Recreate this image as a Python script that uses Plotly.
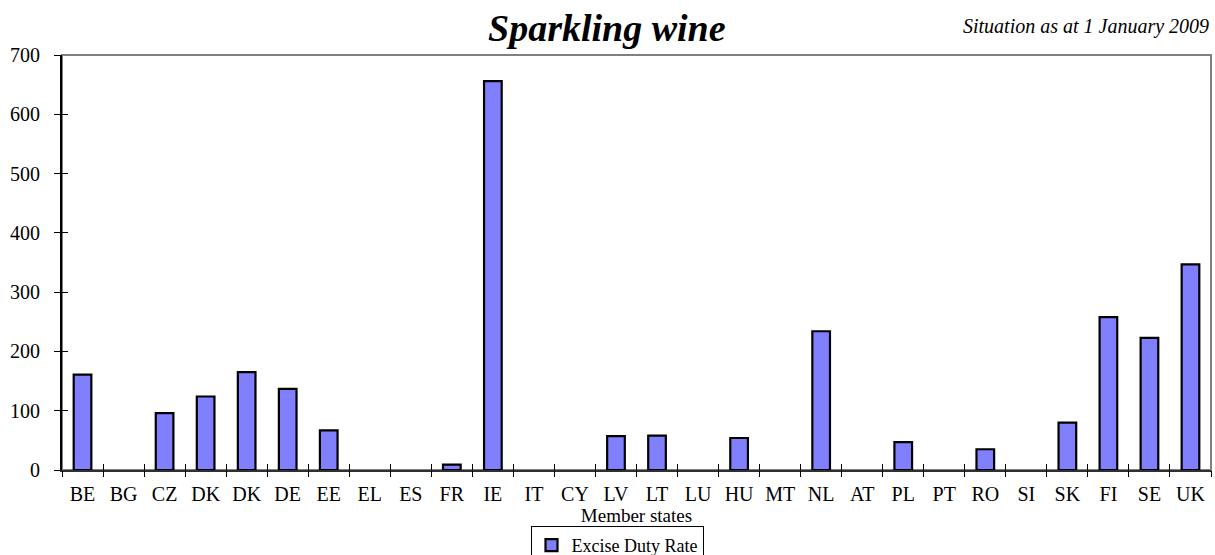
import plotly.graph_objects as go

countries = ["BE", "BG", "CZ", "DK", "DK", "DE", "EE", "EL", "ES", "FR", "IE", "IT", "CY", "LV",
             "LT", "LU", "HU", "MT", "NL", "AT", "PL", "PT", "RO", "SI", "SK", "FI", "SE", "UK"]
rates = [161, None, 96, 124, 165, 137, 67, None, None, 9, 656, None, None, 57,
         58, None, 54, None, 234, None, 47, None, 35, None, 80, 258, 223, 347]
series_name = "Excise Duty Rate"
title_text = "Sparkling wine"
subtitle_text = "Situation as at 1 January 2009"
x_title = "Member states"
y_ticks = [0, 100, 200, 300, 400, 500, 600, 700]

FONT = "Liberation Serif, Times New Roman, serif"
idx = list(range(len(countries)))
n = len(countries)

fig = go.Figure()
fig.add_trace(go.Bar(
    x=idx, y=rates, name=series_name,
    marker=dict(color="#8080FF", line=dict(color="#000000", width=2.2)),
    width=0.43, showlegend=True,
))
# helper traces for overlay axes (crossing ticks)
fig.add_trace(go.Scatter(x=[None], y=[None], xaxis="x2", yaxis="y2",
                         showlegend=False, hoverinfo="skip"))
fig.add_trace(go.Scatter(x=[None], y=[None], xaxis="x3", yaxis="y2",
                         showlegend=False, hoverinfo="skip"))

tick_common = dict(ticklen=6, tickwidth=1, tickcolor="#000000",
                   showticklabels=False, showgrid=False, zeroline=False, showline=False)

fig.update_layout(
    width=1215, height=555,
    margin=dict(l=62, r=4, t=55, b=85, autoexpand=False),
    paper_bgcolor="white", plot_bgcolor="white",
    font=dict(family=FONT, size=20, color="#000000"),
    showlegend=True,
    legend=dict(x=(617 - 62) / 1149, y=-(526 - 470) / 415, xanchor="center", yanchor="top",
                bordercolor="#000000", borderwidth=1, bgcolor="rgba(255,255,255,0)",
                font=dict(family=FONT, size=18), itemwidth=30,
                tracegroupgap=0),
    xaxis=dict(
        range=[-0.5, n - 0.5],
        tickmode="array", tickvals=idx, ticktext=countries,
        ticks="", showgrid=False, zeroline=False,
        showline=True, linecolor="#303030", linewidth=1.5,
        tickfont=dict(family=FONT, size=20), ticklabelstandoff=5,
        title=dict(text=x_title, font=dict(family=FONT, size=19), standoff=0),
    ),
    yaxis=dict(
        range=[0, 700], tickmode="array", tickvals=y_ticks,
        ticks="outside", ticklen=6, tickwidth=1, tickcolor="#000000",
        showgrid=False, zeroline=False,
        showline=True, linecolor="#000000", linewidth=2,
        tickfont=dict(family=FONT, size=20), ticklabelstandoff=10,
    ),
    xaxis2=dict(overlaying="x", range=[-0.5, n - 0.5], type="linear",
                tickmode="linear", tick0=-0.5, dtick=1, ticks="outside",
                side="bottom", anchor="y2", **tick_common),
    xaxis3=dict(overlaying="x", range=[-0.5, n - 0.5], type="linear",
                tickmode="linear", tick0=-0.5, dtick=1, ticks="inside",
                side="bottom", anchor="y2", **tick_common),
    yaxis2=dict(overlaying="y", range=[0, 700], tickmode="array", tickvals=y_ticks,
                ticks="inside", side="left", **tick_common),
    shapes=[dict(type="rect", xref="paper", yref="paper", x0=0, y0=0, x1=1, y1=1,
                 line=dict(color="#808080", width=2), layer="below")],
    annotations=[
        dict(text="<b><i>" + title_text + "</i></b>", xref="paper", yref="paper",
             x=(606.7 - 62) / 1149, y=1 + 27 / 415, xanchor="center", yanchor="middle",
             showarrow=False, font=dict(family=FONT, size=38)),
        dict(text="<i>" + subtitle_text + "</i>", xref="paper", yref="paper",
             x=1.0, y=1 + 29 / 415, xanchor="right", yanchor="middle",
             showarrow=False, font=dict(family=FONT, size=20)),
    ],
)

fig.write_html("out.html", config={"displayModeBar": False},
               post_script="document.body.style.margin='0px';document.body.style.overflow='hidden';")
